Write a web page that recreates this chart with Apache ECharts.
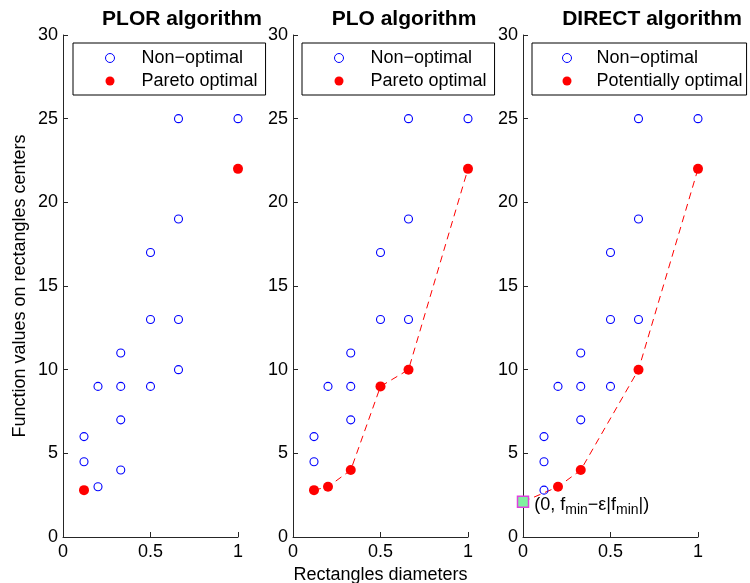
<!DOCTYPE html>
<html>
<head>
<meta charset="utf-8">
<script src="https://cdn.jsdelivr.net/npm/echarts@6.0.0/dist/echarts.min.js"></script>
<style>
  html, body { margin: 0; padding: 0; background: #fff; }
  #chart { width: 750px; height: 583px; }
</style>
</head>
<body>
<div id="chart"></div>
<script>
// [diameter, function value] pairs
const plorNonOptimal = [[0.12, 6], [0.12, 4.5], [0.2, 9], [0.2, 3], [0.33, 11], [0.33, 9], [0.33, 7], [0.33, 4],
  [0.5, 17], [0.5, 13], [0.5, 9], [0.66, 25], [0.66, 19], [0.66, 13], [0.66, 10], [1, 25]];
const plorPareto = [[0.12, 2.8], [1, 22]];

const ploNonOptimal = [[0.12, 6], [0.12, 4.5], [0.2, 9], [0.33, 11], [0.33, 9], [0.33, 7],
  [0.5, 17], [0.5, 13], [0.66, 25], [0.66, 19], [0.66, 13], [1, 25]];
const ploPareto = [[0.12, 2.8], [0.2, 3], [0.33, 4], [0.5, 9], [0.66, 10], [1, 22]];

const directNonOptimal = [[0.12, 6], [0.12, 4.5], [0.12, 2.8], [0.2, 9], [0.33, 11], [0.33, 9], [0.33, 7],
  [0.5, 17], [0.5, 13], [0.5, 9], [0.66, 25], [0.66, 19], [0.66, 13], [1, 25]];
const directPotential = [[0.2, 3], [0.33, 4], [0.66, 10], [1, 22]];
const directFmin = [[0, 2.1]];

const titles = ["PLOR algorithm", "PLO algorithm", "DIRECT algorithm"];
const optimalNames = ["Pareto optimal", "Pareto optimal", "Potentially optimal"];
const nonOptimalName = "Non\u2212optimal";

const fontFamily = '"Liberation Sans", Arial, Helvetica, sans-serif';
const axisColor = "#262626";
const gridLefts = [63, 293, 523];
const titleCenters = [182, 404, 652];
const legendLefts = [73, 302, 532];

const chart = echarts.init(document.getElementById("chart"));

function makeXAxis(i) {
  return {
    type: "value",
    gridIndex: i,
    min: 0,
    max: 1,
    interval: 0.5,
    name: i === 1 ? "Rectangles diameters" : "",
    nameLocation: "middle",
    nameGap: 26,
    nameTextStyle: { fontSize: 18, color: "#000", fontFamily: fontFamily },
    axisLine: { lineStyle: { color: axisColor, width: 1 } },
    axisTick: { inside: true, length: 5, lineStyle: { color: axisColor } },
    axisLabel: { fontSize: 18, color: "#000", fontFamily: fontFamily, margin: 6 },
    splitLine: { show: false }
  };
}

function makeYAxis(i) {
  return {
    type: "value",
    gridIndex: i,
    min: 0,
    max: 30,
    interval: 5,
    name: i === 0 ? "Function values on rectangles centers" : "",
    nameLocation: "middle",
    nameGap: 34,
    nameTextStyle: { fontSize: 18, color: "#000", fontFamily: fontFamily },
    axisLine: { show: true, lineStyle: { color: axisColor, width: 1 } },
    axisTick: { show: true, inside: true, length: 5, lineStyle: { color: axisColor } },
    axisLabel: { fontSize: 18, color: "#000", fontFamily: fontFamily, margin: 5 },
    splitLine: { show: false }
  };
}

function nonOptimalSeries(i, data) {
  return {
    name: nonOptimalName,
    type: "scatter",
    xAxisIndex: i,
    yAxisIndex: i,
    data: data,
    symbol: "circle",
    symbolSize: 8,
    clip: false,
    z: 3,
    itemStyle: { color: "rgba(255,255,255,0)", borderColor: "#0000ff", borderWidth: 1.1, opacity: 1 }
  };
}

function optimalSeries(i, data) {
  return {
    name: optimalNames[i],
    type: "scatter",
    xAxisIndex: i,
    yAxisIndex: i,
    data: data,
    symbol: "circle",
    symbolSize: 10,
    clip: false,
    z: 3,
    itemStyle: { color: "#ff0000", opacity: 1 }
  };
}

function dashedLine(i, data) {
  return {
    type: "line",
    xAxisIndex: i,
    yAxisIndex: i,
    data: data,
    symbol: "none",
    silent: true,
    z: 2,
    lineStyle: { color: "#ff0000", width: 1, type: [7, 5] }
  };
}

const legendPadding = [[5, 8, 4, 32], [5, 8, 4, 32], [5, 4, 4, 30]];
const legendTextPad = [22, 22, 20];

const option = {
  animation: false,
  backgroundColor: "#fff",
  title: titles.map((t, i) => ({
    text: t,
    left: titleCenters[i],
    top: 9,
    padding: 0,
    textAlign: "center",
    textStyle: { fontSize: 21, fontWeight: "bold", color: "#000", fontFamily: fontFamily }
  })),
  legend: [0, 1, 2].map(i => ({
    data: [
      { name: nonOptimalName, itemStyle: { color: "rgba(255,255,255,0)", borderColor: "#0000ff", borderWidth: 1 } },
      { name: optimalNames[i], itemStyle: { color: "#ff0000", opacity: 1 } }
    ],
    orient: "vertical",
    left: legendLefts[i],
    top: 43,
    padding: legendPadding[i],
    itemGap: 3,
    itemWidth: 9,
    itemHeight: 9,
    selectedMode: false,
    backgroundColor: "#fff",
    borderColor: "#000",
    borderWidth: 1,
    borderRadius: 0,
    textStyle: {
      fontSize: 18,
      color: "#000",
      fontFamily: fontFamily,
      lineHeight: 20,
      padding: [0, 0, 0, legendTextPad[i]]
    }
  })),
  grid: gridLefts.map(l => ({ left: l, top: 35, width: 175, height: 502, outerBoundsMode: "none" })),
  xAxis: [0, 1, 2].map(makeXAxis),
  yAxis: [0, 1, 2].map(makeYAxis),
  series: [
    nonOptimalSeries(0, plorNonOptimal),
    optimalSeries(0, plorPareto),

    dashedLine(1, ploPareto),
    nonOptimalSeries(1, ploNonOptimal),
    optimalSeries(1, ploPareto),

    dashedLine(2, directFmin.concat(directPotential)),
    nonOptimalSeries(2, directNonOptimal),
    optimalSeries(2, directPotential),
    {
      type: "scatter",
      xAxisIndex: 2,
      yAxisIndex: 2,
      data: directFmin,
      symbol: "rect",
      symbolSize: 11,
      clip: false,
      z: 4,
      itemStyle: { color: "#80f0a0", borderColor: "#e040e0", borderWidth: 1.5, opacity: 1 },
      label: {
        show: true,
        position: "right",
        distance: 5,
        offset: [0, 3],
        color: "#000",
        fontSize: 18,
        fontFamily: fontFamily,
        formatter: "(0, f{s|min}\u2212\u03b5|f{s|min}|)",
        rich: {
          s: { fontSize: 14, fontFamily: fontFamily, color: "#000", padding: [11, 0, 0, 0] }
        }
      }
    }
  ]
};

chart.setOption(option);
</script>
</body>
</html>
